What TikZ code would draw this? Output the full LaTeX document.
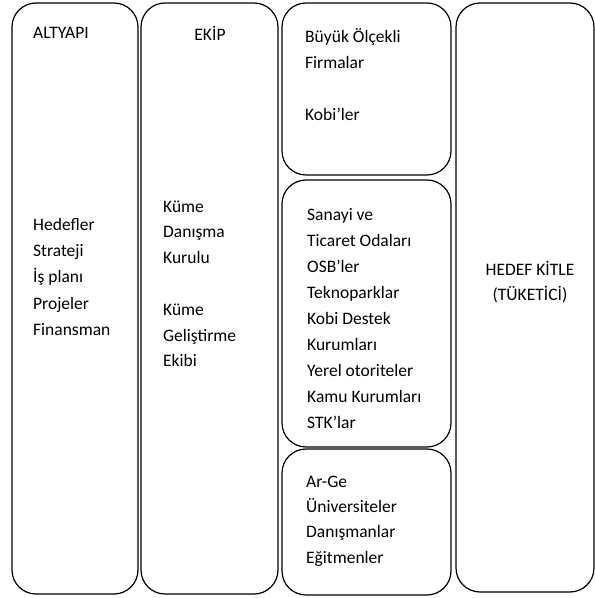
\documentclass[tikz,border=0pt]{standalone}
\usepackage{fontspec}
\setmainfont{Carlito}
\usepackage{tikz}

\begin{document}
\begin{tikzpicture}[x=1pt,y=1pt,
  box/.style={draw,line width=1.2pt,rounded corners=24pt,inner sep=0pt,outer sep=0pt,anchor=south west},
  txt/.style={inner sep=0pt,align=left,anchor=north west,font=\fontsize{17.5}{#1}\selectfont},
  ctxt/.style={txt=#1,align=center,anchor=north},
  title/.style={inner sep=0pt,font=\fontsize{17.5}{26}\selectfont}]
\useasboundingbox (0,0) rectangle (595,598);

\node[box,minimum width=126pt,minimum height=591pt] (b1) at (12,4) {};
\node[box,minimum width=137pt,minimum height=591pt] (b2) at (141,4) {};
\node[box,minimum width=169pt,minimum height=172pt] (b3) at (282,423) {};
\node[box,minimum width=169pt,minimum height=267pt] (b4) at (282,151) {};
\node[box,minimum width=169pt,minimum height=146pt] (b5) at (282,3) {};
\node[box,minimum width=138pt,minimum height=589pt] (b6) at (456,6) {};

\node[title,anchor=base west] (altyapi) at (33,559) {ALTYAPI};
\node[txt=26.3] (hedef) at (33,386.4) {\strut Hedefler\\Strateji\\İş planı\\Projeler\\Finansman};

\node[title,anchor=base] (ekip) at (210,557) {EKİP};
\node[txt=25.8] (kume) at (163,404.1) {\strut Küme\\Danışma\\Kurulu\\[25.8pt]Küme\\Geliştirme\\Ekibi};

\node[txt=26] (firma) at (305,574.2) {\strut Büyük Ölçekli\\Firmalar\\[26pt]Kobi’ler};
\node[txt=26] (kurum) at (307,396.2) {\strut Sanayi ve\\Ticaret Odaları\\OSB’ler\\Teknoparklar\\Kobi Destek\\Kurumları\\Yerel otoriteler\\Kamu Kurumları\\STK’lar};
\node[txt=25.3] (arge) at (306,128.7) {\strut Ar-Ge\\Üniversiteler\\Danışmanlar\\Eğitmenler};

\node[ctxt=25] (kitle) at (530,340.5) {\strut HEDEF KİTLE\\(TÜKETİCİ)};
\end{tikzpicture}
\end{document}
